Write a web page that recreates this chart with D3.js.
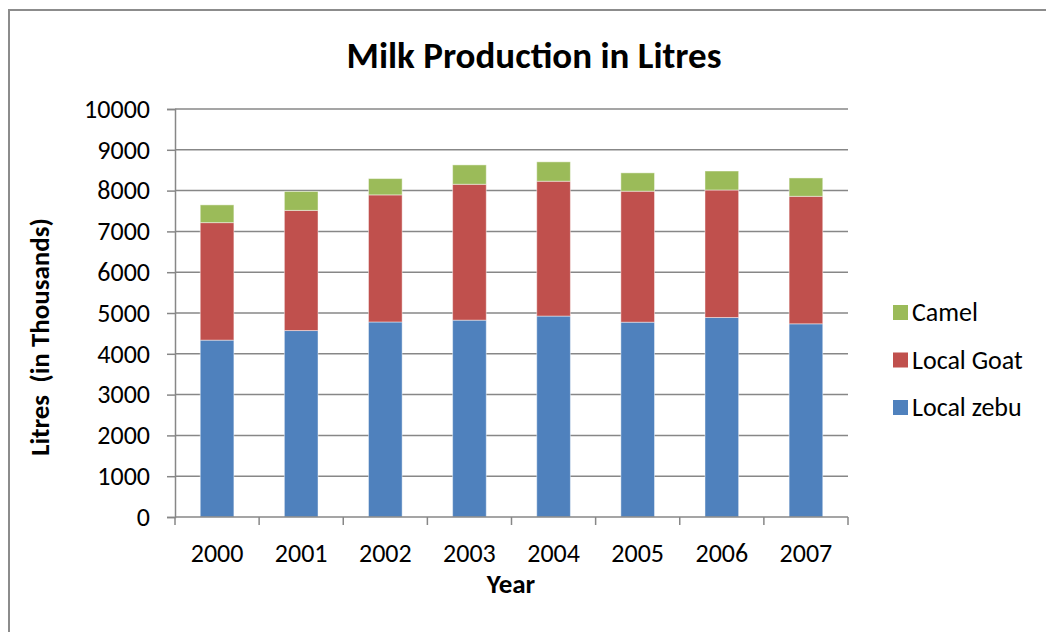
<!DOCTYPE html>
<html>
<head>
<meta charset="utf-8">
<script src="https://cdn.jsdelivr.net/npm/d3@7"></script>
<style>
  html, body { margin: 0; padding: 0; background: #fff; }
  svg { display: block; font-family: Carlito, Lato, "Open Sans", sans-serif; }
</style>
</head>
<body>
<svg id="chart" width="1046" height="632"></svg>
<script>
// Milk production (thousand litres) by source, 2000–2007
const years = ["2000", "2001", "2002", "2003", "2004", "2005", "2006", "2007"];
const localZebu = [4335, 4570, 4780, 4825, 4925, 4775, 4890, 4735];
const localGoat = [2880, 2945, 3115, 3330, 3305, 3210, 3125, 3125];
const camel     = [435, 465, 400, 475, 475, 450, 465, 450];
const yTicks = [0, 1000, 2000, 3000, 4000, 5000, 6000, 7000, 8000, 9000, 10000];

const seriesNames = ["Local zebu", "Local Goat", "Camel"];
const seriesColors = ["#4F81BD", "#C0504D", "#9BBB59"];

const rows = years.map((y, i) => ({
  year: y,
  "Local zebu": localZebu[i],
  "Local Goat": localGoat[i],
  "Camel": camel[i]
}));

const svg = d3.select("#chart");
const W = 1046, H = 632;
const plot = { left: 175, right: 848, top: 109, bottom: 517 };

// outer chart frame
svg.append("rect")
  .attr("x", 9).attr("y", 10)
  .attr("width", W + 10).attr("height", H + 10)
  .attr("fill", "none")
  .attr("stroke", "#8c8c8c")
  .attr("stroke-width", 2);

const x = d3.scaleBand()
  .domain(years)
  .range([plot.left, plot.right])
  .paddingInner(0.6)
  .paddingOuter(0.3);

const y = d3.scaleLinear()
  .domain([0, 10000])
  .range([plot.bottom, plot.top]);

// horizontal gridlines
svg.append("g")
  .selectAll("line")
  .data(yTicks.filter(t => t > 0))
  .join("line")
  .attr("x1", plot.left).attr("x2", plot.right)
  .attr("y1", d => y(d)).attr("y2", d => y(d))
  .attr("stroke", "#878787")
  .attr("stroke-width", 1.5);

// stacked bars
const stack = d3.stack().keys(seriesNames)(rows);
svg.append("g")
  .selectAll("g")
  .data(stack)
  .join("g")
  .attr("fill", (d, i) => seriesColors[i])
  .selectAll("rect")
  .data(d => d)
  .join("rect")
  .attr("x", d => x(d.data.year))
  .attr("width", x.bandwidth())
  .attr("y", d => y(d[1]))
  .attr("height", d => y(d[0]) - y(d[1]))
  .attr("stroke", "rgba(255,255,255,0.45)")
  .attr("stroke-width", 1);

// y axis
const yAxis = svg.append("g")
  .attr("transform", `translate(${plot.left},0)`)
  .call(d3.axisLeft(y).tickValues(yTicks).tickSize(8).tickPadding(17).tickFormat(d3.format("d")));
yAxis.select(".domain").attr("stroke", "#878787").attr("stroke-width", 1.5);
yAxis.selectAll(".tick line").attr("stroke", "#878787").attr("stroke-width", 1.5);
yAxis.selectAll(".tick text")
  .attr("font-size", 26)
  .attr("fill", "#000")
  .attr("font-family", "Carlito, Lato, sans-serif");

// x axis: ticks sit on category boundaries
const xAxisG = svg.append("g").attr("transform", `translate(0,${plot.bottom})`);
xAxisG.append("line")
  .attr("x1", plot.left).attr("x2", plot.right)
  .attr("stroke", "#878787").attr("stroke-width", 1.5);
const step = x.step();
xAxisG.selectAll(".xtick")
  .data(d3.range(years.length + 1))
  .join("line")
  .attr("class", "xtick")
  .attr("x1", i => plot.left + i * step)
  .attr("x2", i => plot.left + i * step)
  .attr("y1", 0).attr("y2", 8)
  .attr("stroke", "#878787").attr("stroke-width", 1.5);
xAxisG.selectAll(".xlabel")
  .data(years)
  .join("text")
  .attr("class", "xlabel")
  .attr("x", d => x(d) + x.bandwidth() / 2)
  .attr("y", 45)
  .attr("text-anchor", "middle")
  .attr("font-size", 26)
  .text(d => d);

// titles
svg.append("text")
  .attr("x", 534).attr("y", 68)
  .attr("text-anchor", "middle")
  .attr("font-size", 37)
  .attr("font-weight", "bold")
  .text("Milk Production in Litres");

svg.append("text")
  .attr("x", 511).attr("y", 593)
  .attr("text-anchor", "middle")
  .attr("font-size", 27)
  .attr("font-weight", "bold")
  .text("Year");

svg.append("text")
  .attr("transform", "translate(49,337) rotate(-90)")
  .attr("text-anchor", "middle")
  .attr("font-size", 27)
  .attr("font-weight", "bold")
  .attr("xml:space", "preserve")
  .text("Litres  (in Thousands)");

// legend (top to bottom: Camel, Local Goat, Local zebu)
const legendItems = seriesNames.map((n, i) => ({ name: n, color: seriesColors[i] })).reverse();
const legend = svg.append("g")
  .selectAll("g")
  .data(legendItems)
  .join("g")
  .attr("transform", (d, i) => `translate(893,${305 + i * 47.5})`);
legend.append("rect")
  .attr("width", 15).attr("height", 15)
  .attr("fill", d => d.color);
legend.append("text")
  .attr("x", 19).attr("y", 16)
  .attr("font-size", 26)
  .text(d => d.name);
</script>
</body>
</html>
